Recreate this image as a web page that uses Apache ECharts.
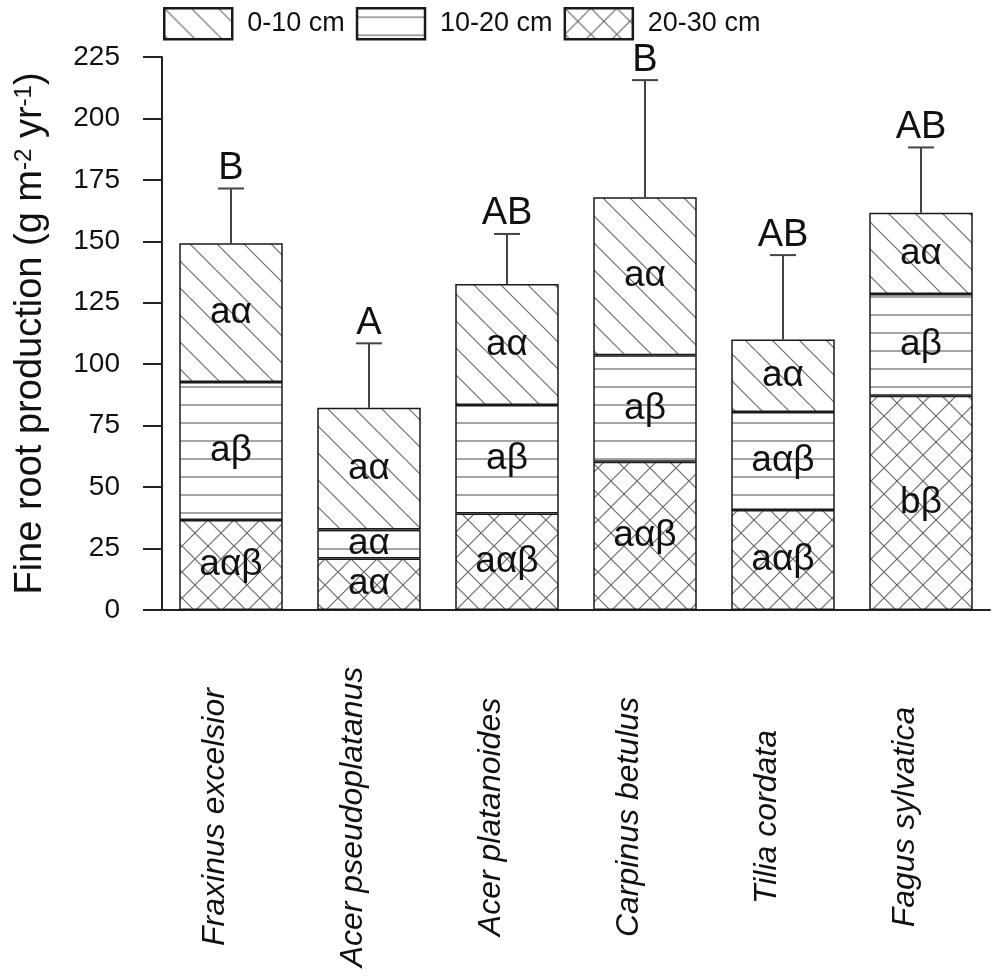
<!DOCTYPE html>
<html>
<head>
<meta charset="utf-8">
<script src="https://cdn.jsdelivr.net/npm/echarts@6/dist/echarts.min.js"></script>
<style>
  html, body { margin: 0; padding: 0; background: #fff; }
  #chart { width: 1000px; height: 980px; }
</style>
</head>
<body>
<div id="chart"></div>
<script>
// species on the x axis
const species = ['Fraxinus excelsior', 'Acer pseudoplatanus', 'Acer platanoides',
                 'Carpinus betulus', 'Tilia cordata', 'Fagus sylvatica']
// fine root production per depth (g m-2 yr-1)
const depth0_10  = [56.4, 49.5, 49.2, 64.2, 29.5, 33.0]
const depth10_20 = [56.2, 11.8, 44.1, 43.4, 39.9, 41.4]
const depth20_30 = [36.6, 21.0, 39.3, 60.3, 40.7, 87.2]
// error bar on the total
const totalErr = [22.3, 26.2, 20.4, 47.7, 34.3, 26.6]
// letters
const lab0_10  = ['aα', 'aα', 'aα', 'aα', 'aα', 'aα']
const lab10_20 = ['aβ', 'aα', 'aβ', 'aβ', 'aαβ', 'aβ']
const lab20_30 = ['aαβ', 'aα', 'aαβ', 'aαβ', 'aαβ', 'bβ']
const groupLetters = ['B', 'A', 'AB', 'B', 'AB', 'AB']
const yTicks = [0, 225, 25]   // min, max, step

const FONT = '"Liberation Sans", Arial, sans-serif'

// hatch fills
function makePattern(kind){
    const s = kind === 'horiz' ? 18 : (kind === 'diag' ? 27 : 26)
    const c = document.createElement('canvas')
    c.width = s; c.height = s
    const ctx = c.getContext('2d')
    ctx.fillStyle = '#fff'
    ctx.fillRect(0, 0, s, s)
    ctx.strokeStyle = '#6a6a6a'
    ctx.lineWidth = 1.2
    ctx.beginPath()
    if(kind === 'horiz'){
        ctx.moveTo(0, s / 2); ctx.lineTo(s, s / 2)
    }else{
        for(const k of [-1, 0, 1]){
            ctx.moveTo(k * s, 0); ctx.lineTo(k * s + s, s)
            if(kind === 'cross'){
                ctx.moveTo(k * s, s); ctx.lineTo(k * s + s, 0)
            }
        }
    }
    ctx.stroke()
    return { image: c, repeat: 'repeat' }
}

const totals = species.map((_, i) => depth0_10[i] + depth10_20[i] + depth20_30[i])
const errData = species.map((_, i) => [i, totals[i], totals[i] + totalErr[i]])

function barSeries(name, data, labels, pattern){
    return {
        name: name,
        type: 'bar',
        stack: 'total',
        barCategoryGap: '25%',
        data: data,
        itemStyle: {
            color: makePattern(pattern),
            borderColor: '#1a1a1a',
            borderWidth: 1.5
        },
        label: {
            show: true,
            position: 'inside',
            formatter: p => labels[p.dataIndex],
            fontFamily: FONT,
            fontSize: 37,
            color: '#111',
            textBorderWidth: 0
        },
        emphasis: { disabled: true }
    }
}

const chart = echarts.init(document.getElementById('chart'))
chart.setOption({
    animation: false,
    backgroundColor: '#fff',
    legend: {
        left: 158,
        top: 2,
        itemWidth: 68,
        itemHeight: 31,
        itemGap: 11,
        icon: 'rect',
        data: ['0-10 cm', '10-20 cm', '20-30 cm'],
        itemStyle: { borderColor: '#1a1a1a', borderWidth: 2.5 },
        textStyle: { fontFamily: FONT, fontSize: 27, color: '#111', padding: [0, 0, 0, 10] }
    },
    grid: { left: 162, right: 10, top: 57, bottom: 370, containLabel: false },
    xAxis: {
        type: 'category',
        data: species,
        axisLine: { lineStyle: { color: '#222', width: 2 } },
        axisTick: { length: 20, lineStyle: { color: '#222', width: 2 } },
        axisLabel: {
            rotate: 90,
            interval: 0,
            align: 'center',
            verticalAlign: 'bottom',
            margin: 207,
            fontFamily: FONT,
            fontStyle: 'italic',
            fontSize: 32,
            color: '#111'
        }
    },
    yAxis: {
        type: 'value',
        min: yTicks[0],
        max: yTicks[1],
        interval: yTicks[2],
        splitLine: { show: false },
        axisLine: { show: true, lineStyle: { color: '#222', width: 2 } },
        axisTick: { show: true, length: 19, lineStyle: { color: '#222', width: 2 } },
        axisLabel: { margin: 42, fontFamily: FONT, fontSize: 28, color: '#111' },
        name: 'Fine root production (g m{sup|-2} yr{sup|-1})',
        nameLocation: 'middle',
        nameRotate: 90,
        nameGap: 112,
        nameTextStyle: {
            fontFamily: FONT,
            fontSize: 38,
            color: '#111',
            rich: {
                sup: { fontFamily: FONT, fontSize: 24, color: '#111', verticalAlign: 'top', padding: [0, 0, 14, 0] }
            }
        }
    },
    series: [
        barSeries('20-30 cm', depth20_30, lab20_30, 'cross'),
        barSeries('10-20 cm', depth10_20, lab10_20, 'horiz'),
        barSeries('0-10 cm', depth0_10, lab0_10, 'diag'),
        {
            type: 'custom',
            data: errData,
            z: 5,
            silent: true,
            renderItem: (params, api) => {
                const base = api.coord([api.value(0), api.value(1)])
                const top = api.coord([api.value(0), api.value(2)])
                const st = { stroke: '#444', lineWidth: 2 }
                return {
                    type: 'group',
                    children: [
                        { type: 'line', shape: { x1: base[0], y1: base[1], x2: top[0], y2: top[1] }, style: st },
                        { type: 'line', shape: { x1: top[0] - 13, y1: top[1], x2: top[0] + 13, y2: top[1] }, style: st },
                        {
                            type: 'text',
                            style: {
                                x: top[0], y: top[1] - 1,
                                text: groupLetters[params.dataIndex],
                                font: '38px ' + FONT,
                                fill: '#111',
                                align: 'center',
                                verticalAlign: 'bottom'
                            }
                        }
                    ]
                }
            }
        }
    ]
})
</script>
</body>
</html>
